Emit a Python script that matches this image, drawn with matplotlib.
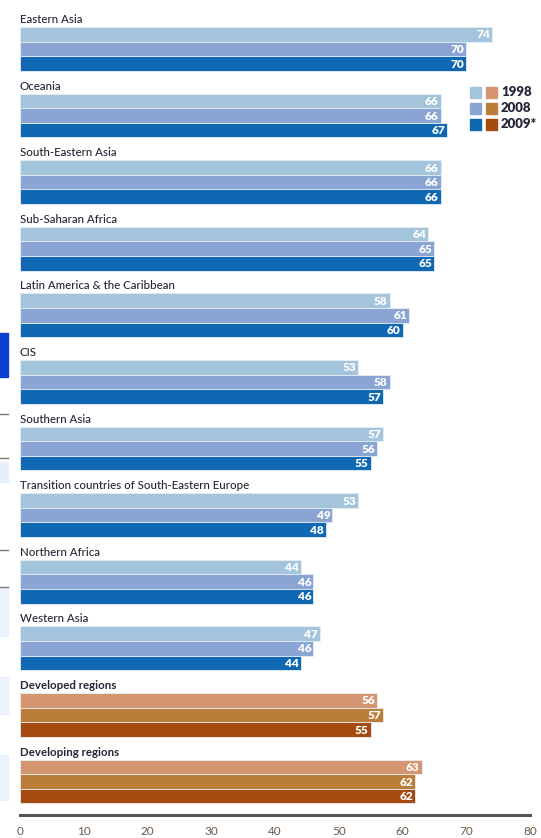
import matplotlib
matplotlib.use("Agg")
import matplotlib.pyplot as plt
from matplotlib.patches import Rectangle

plt.rcParams['font.family'] = ['Lato', 'DejaVu Sans']

regions = ["Eastern Asia", "Oceania", "South-Eastern Asia", "Sub-Saharan Africa",
           "Latin America & the Caribbean", "CIS", "Southern Asia",
           "Transition countries of South-Eastern Europe", "Northern Africa",
           "Western Asia", "Developed regions", "Developing regions"]
years = ["1998", "2008", "2009*"]
v1998 = [74, 66, 66, 64, 58, 53, 57, 53, 44, 47, 56, 63]
v2008 = [70, 66, 66, 65, 61, 58, 56, 49, 46, 46, 57, 62]
v2009 = [70, 67, 66, 65, 60, 57, 55, 48, 46, 44, 55, 62]
x_ticks = [0, 10, 20, 30, 40, 50, 60, 70, 80]

blues = ["#a3c4da", "#8aa5d4", "#1068b2"]
browns = ["#d49570", "#bb7d3a", "#a54b10"]
bold_groups = {"Developed regions", "Developing regions"}

W, H = 541, 838
fig = plt.figure(figsize=(W / 100, H / 100), dpi=100)

# axes: x 0..80 spans px 20..530, y area from top to the baseline at px 815
left, right = 20 / W, 530 / W
bottom, top = (H - 815) / H, 1.0
ax = fig.add_axes([left, bottom, right - left, top - bottom])

unit_px = 66.6
first_top_px = 27
ax.set_ylim((815 - first_top_px) / unit_px, -first_top_px / unit_px)
ax.set_xlim(0, 80)

bh = 14.6 / unit_px
series = [v1998, v2008, v2009]
for i, name in enumerate(regions):
    cols = browns if name in bold_groups else blues
    for k, vals in enumerate(series):
        yc = i + bh * (k + 0.5)
        ax.barh(yc, vals[i], height=bh, color=cols[k], edgecolor="#e8eef4",
                linewidth=0.6)
        ax.text(vals[i] - 0.3, yc + 0.01, str(vals[i]), ha="right", va="center",
                color="white", fontsize=8.5, fontweight="heavy")
    ax.text(0, i - 0.03, name, ha="left", va="bottom", fontsize=8.3,
            color="#262636", fontweight="bold" if name in bold_groups else "medium")

for s in ["top", "right", "left"]:
    ax.spines[s].set_visible(False)
ax.spines["bottom"].set_color("#555555")
ax.spines["bottom"].set_linewidth(2.2)
ax.set_yticks([])
ax.set_xticks(x_ticks)
ax.set_xticklabels([str(t) for t in x_ticks], fontsize=8.5, color="#6b5a4a")
ax.tick_params(axis="x", length=0, pad=8)
ax.spines["bottom"].set_bounds(0, 80)

# legend: blue and brown swatches side by side per year
for r, yr in enumerate(years):
    ypx = 87 + r * 16
    for c, cols in enumerate([blues, browns]):
        fig.add_artist(Rectangle(((470 + c * 16) / W, 1 - (ypx + 11) / H),
                                 11 / W, 11 / H, transform=fig.transFigure,
                                 color=cols[r]))
    fig.text(501 / W, 1 - (ypx + 5.5) / H, yr, fontsize=9.5, fontweight="heavy",
             color="#262636", va="center", ha="left")

# edge of neighbouring panel
edge_boxes = [(333, 377, "#0b3fd0"), (462, 482, "#e6f0fa"), (588, 636, "#eaf3fb"),
              (677, 714, "#eaf3fb"), (755, 800, "#eaf3fb")]
for y0, y1, col in edge_boxes:
    fig.add_artist(Rectangle((0, 1 - y1 / H), 8 / W, (y1 - y0) / H,
                             transform=fig.transFigure, color=col))
for yl in [414, 458, 550, 587]:
    fig.add_artist(plt.Line2D([0, 8 / W], [1 - yl / H] * 2,
                              transform=fig.transFigure, color="#777777", lw=1))

fig.savefig("out.png", dpi=100)
